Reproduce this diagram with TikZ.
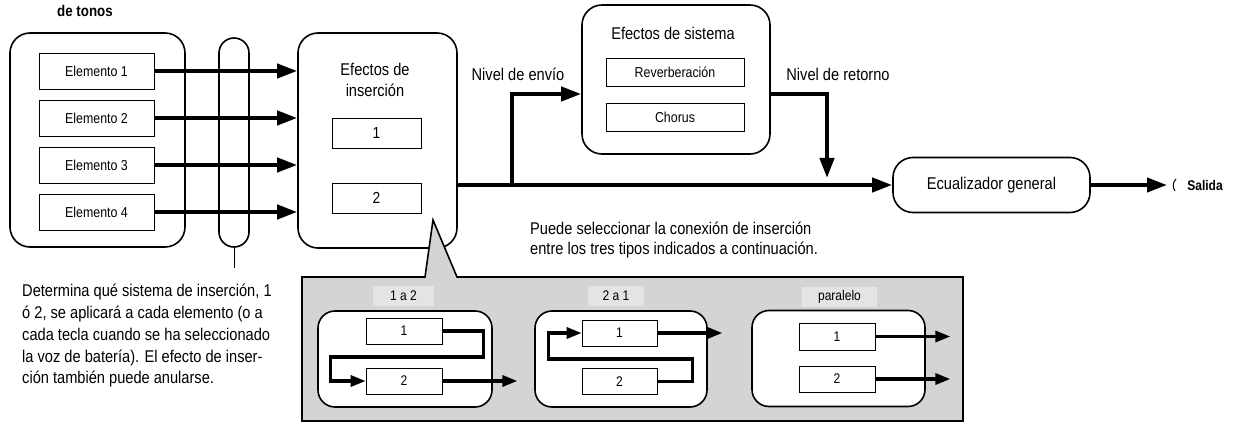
\documentclass[tikz,border=0pt]{standalone}
\usepackage{fontspec}
\setmainfont{Liberation Sans}[FakeStretch=0.86]
\usetikzlibrary{arrows.meta}
\definecolor{panelgray}{HTML}{D3D4D6}
\definecolor{tabgray}{HTML}{E4E4E5}
\begin{document}
\begin{tikzpicture}[x=1pt,y=-1pt,
    bigbox/.style={draw,line width=1.6pt,rounded corners=20pt,fill=white,inner sep=0pt},
    subbox/.style={draw,line width=1.6pt,rounded corners=17pt,fill=white,minimum width=173pt,minimum height=96pt},
    elembox/.style={draw,line width=0.7pt,fill=white,inner sep=0pt,minimum width=115pt,minimum height=36pt,font=\fontsize{14.4}{16}\selectfont},
    fxbox/.style={draw,line width=0.7pt,fill=white,inner sep=0pt,minimum width=89pt,minimum height=30pt,font=\fontsize{16}{18}\selectfont},
    sysbox/.style={draw,line width=0.7pt,fill=white,inner sep=0pt,minimum width=138pt,minimum height=28pt,font=\fontsize{14.4}{16}\selectfont},
    numbox/.style={draw,line width=0.7pt,fill=white,inner sep=0pt,minimum width=76pt,minimum height=26pt,font=\fontsize{14}{16}\selectfont},
    tab/.style={fill=tabgray,inner sep=0pt,minimum height=20pt,font=\fontsize{14}{16}\selectfont},
    flow/.style={line width=4pt,-{Triangle[length=20pt,width=14pt]}},
    smallflow/.style={line width=3.2pt,-{Triangle[length=15pt,width=11pt]}},
    lbl/.style={font=\fontsize{17}{20}\selectfont,inner sep=0pt}]
  \useasboundingbox (0,0) rectangle (1234,422);
  % generador de tonos
  \node[font=\bfseries\fontsize{15.5}{18}\selectfont] (tonos) at (85,11) {de tonos};
  \node[bigbox,minimum width=175pt,minimum height=214pt] (gen) at (97.5,140) {};
  \foreach \i/\y in {1/71,2/118,3/165,4/212}
    \node[elembox] (e\i) at (96.5,\y) {Elemento \i};
  \node[draw,line width=1.6pt,rounded corners=15pt,minimum width=30pt,minimum height=209pt] (sel) at (234,142.5) {};
  % efectos de insercion
  \node[bigbox,minimum width=159pt,minimum height=215pt] (ins) at (377.5,140.5) {};
  \node[lbl,align=center,font=\fontsize{17}{20.5}\selectfont] (institle) at (375,80) {Efectos de\\inserción};
  \node[fxbox] (ins1) at (376.5,133) {1};
  \node[fxbox] (ins2) at (376.5,198) {2};
  \foreach \i in {1,...,4}
    \draw[flow] (e\i.east) -- (e\i.east -| ins.west);
  % efectos de sistema
  \node[bigbox,minimum width=188pt,minimum height=149pt] (sys) at (676,79.5) {};
  \node[lbl] (systitle) at (673,33) {Efectos de sistema};
  \node[sysbox] (rev) at (675,72) {Reverberación};
  \node[sysbox] (cho) at (675,117) {Chorus};
  % ecualizador y salida
  \node[bigbox,minimum width=197pt,minimum height=55pt,font=\fontsize{17}{20}\selectfont] (eq) at (991.5,185) {Ecualizador general};
  \coordinate (split) at (512,185);
  \coordinate (send) at (512,94);
  \coordinate (ret) at (827,94);
  \coordinate (jack) at (1167,185);
  \draw[flow] (ins.east |- split) -- (eq.west);
  \draw[flow] (split) -- (send) -- (send -| sys.west);
  \draw[flow] (sys.east |- ret) -- (ret) -- ++(0,84);
  \draw[flow] (eq.east) -- (jack);
  \draw[line width=1pt] (1176,179) .. controls (1172.5,182) and (1172.5,188) .. (1175,191);
  \node[font=\bfseries\fontsize{14}{16}\selectfont,inner sep=0pt] (out) at (1205,185) {Salida};
  \node[lbl,anchor=south] (envio) at (518,81) {Nivel de envío};
  \node[lbl,anchor=south] (retorno) at (838,81) {Nivel de retorno};
  \node[lbl,align=left,anchor=west,font=\fontsize{17}{20.5}\selectfont] (hint) at (530,240) {Puede seleccionar la conexión de inserción\\entre los tres tipos indicados a continuación.};
  % nota del selector
  \draw[line width=0.8pt] (sel.south) -- ++(0,20);
  \node[lbl,align=left,anchor=north west,font=\fontsize{17}{21.8}\selectfont] (note) at (22,284) {Determina qué sistema de inserción, 1\\ó 2, se aplicará a cada elemento (o a\\cada tecla cuando se ha seleccionado\\la voz de batería). El efecto de inser-\\ción también puede anularse.};
  % panel de conexiones
  \draw[line width=1.6pt,fill=panelgray] (302,277) -- (425,277) -- (433,220) -- (457,277) -- (963,277) -- (963,421) -- (302,421) -- cycle;
  \node[tab,minimum width=61pt] (tabA) at (403.5,295.5) {1 a 2};
  \node[tab,minimum width=56pt] (tabB) at (616,295.5) {2 a 1};
  \node[tab,minimum width=75pt] (tabC) at (839.5,296.5) {paralelo};
  \node[subbox,minimum width=174pt] (subA) at (405,359) {};
  \node[subbox,minimum width=172pt] (subB) at (621,359) {};
  \node[subbox] (subC) at (838.5,358.5) {};
  \node[numbox] (a1) at (404,331) {1};
  \node[numbox] (a2) at (404,381) {2};
  \node[numbox,minimum width=75pt] (b1) at (619.5,333) {1};
  \node[numbox,minimum width=75pt] (b2) at (619.5,381.5) {2};
  \node[numbox,minimum height=27pt] (c1) at (837,336.5) {1};
  \node[numbox] (c2) at (837,379) {2};
  \draw[smallflow] (a1.east) -- ++(41,0) -- ++(0,26) -- ++(-153,0) |- (a2.west);
  \draw[smallflow] (a2.east) -- ++(75,0);
  \draw[smallflow] (b2.east) -- ++(35,0) -- ++(0,-22.5) -- ++(-144,0) |- (b1.west);
  \draw[smallflow] (b1.east) -- ++(65,0);
  \draw[smallflow] (c1.east) -- ++(75,0);
  \draw[smallflow] (c2.east) -- ++(75,0);
\end{tikzpicture}
\end{document}
